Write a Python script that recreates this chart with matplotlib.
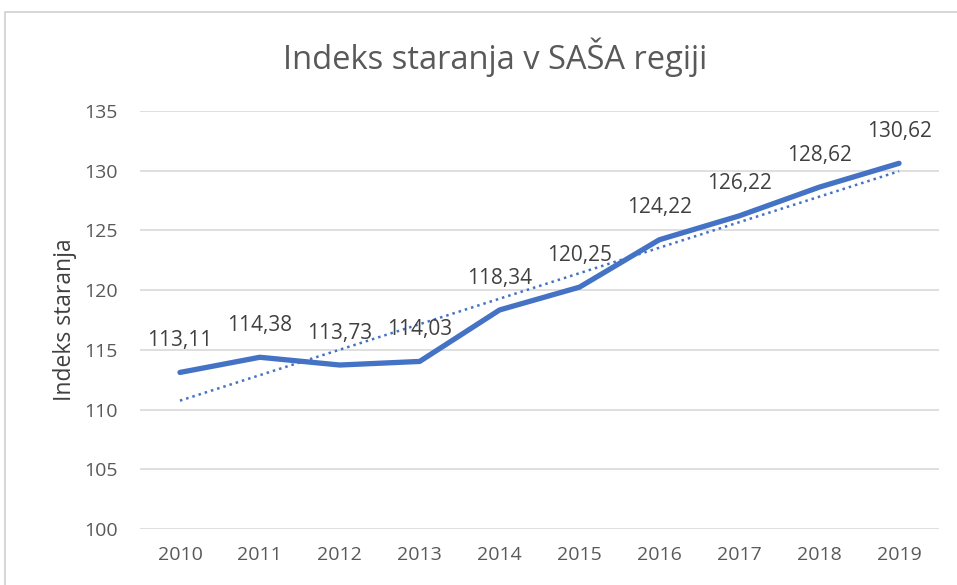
import matplotlib
matplotlib.use("Agg")
import matplotlib.pyplot as plt
from matplotlib.patches import Rectangle
import numpy as np

years = ["2010", "2011", "2012", "2013", "2014", "2015", "2016", "2017", "2018", "2019"]
values = [113.11, 114.38, 113.73, 114.03, 118.34, 120.25, 124.22, 126.22, 128.62, 130.62]
yticks = [100, 105, 110, 115, 120, 125, 130, 135]

plt.rcParams['font.family'] = ['Open Sans', 'DejaVu Sans']

W, H = 957, 585
fig = plt.figure(figsize=(W/100, H/100), dpi=100)
fig.patch.set_facecolor('white')
fig.patches.append(Rectangle((5/W, -0.01), 1.02, 1 - 12/H + 0.01, transform=fig.transFigure,
                             fill=False, edgecolor='#D0D0D0', linewidth=1.2))

left, right = 140/W, 939/W
top_px, bot_px = 111, 529
ax = fig.add_axes([left, 1 - bot_px/H, right - left, (bot_px - top_px)/H])
x = np.arange(len(years))
ax.set_xlim(-0.5, len(years) - 0.5)
ax.set_ylim(100, 135)
ax.set_yticks(yticks)
ax.set_xticks(x)
ax.set_xticklabels(years)
ax.yaxis.grid(True, color='#D9D9D9', linewidth=1.2)
ax.set_axisbelow(True)
for s in ax.spines.values():
    s.set_visible(False)
ax.tick_params(axis='both', length=0, labelsize=14, colors='#595959')
ax.tick_params(axis='x', pad=12)
ax.tick_params(axis='y', pad=16)

ax.plot(x, values, color='#4472C4', linewidth=3.8, solid_capstyle='round', solid_joinstyle='round', zorder=3)
coef = np.polyfit(x, values, 1)
trend = np.polyval(coef, x)
ax.plot(x, trend, color='#4472C4', linewidth=1.8, linestyle=(0, (1, 1.6)), zorder=2)

for xi, v in zip(x, values):
    ax.annotate(f"{v:.2f}".replace('.', ','), (xi, v), xytext=(0, 23), textcoords='offset points',
                ha='center', va='center', fontsize=15, color='#404040', zorder=4)

ax.set_ylabel("Indeks staranja", fontsize=16.5, color='#404040', labelpad=5)
fig.text(495/W, 1 - 57/H, "Indeks staranja v SAŠA regiji", ha='center', va='center',
         fontsize=23.5, color='#595959')

fig.savefig("out.png", dpi=100)
